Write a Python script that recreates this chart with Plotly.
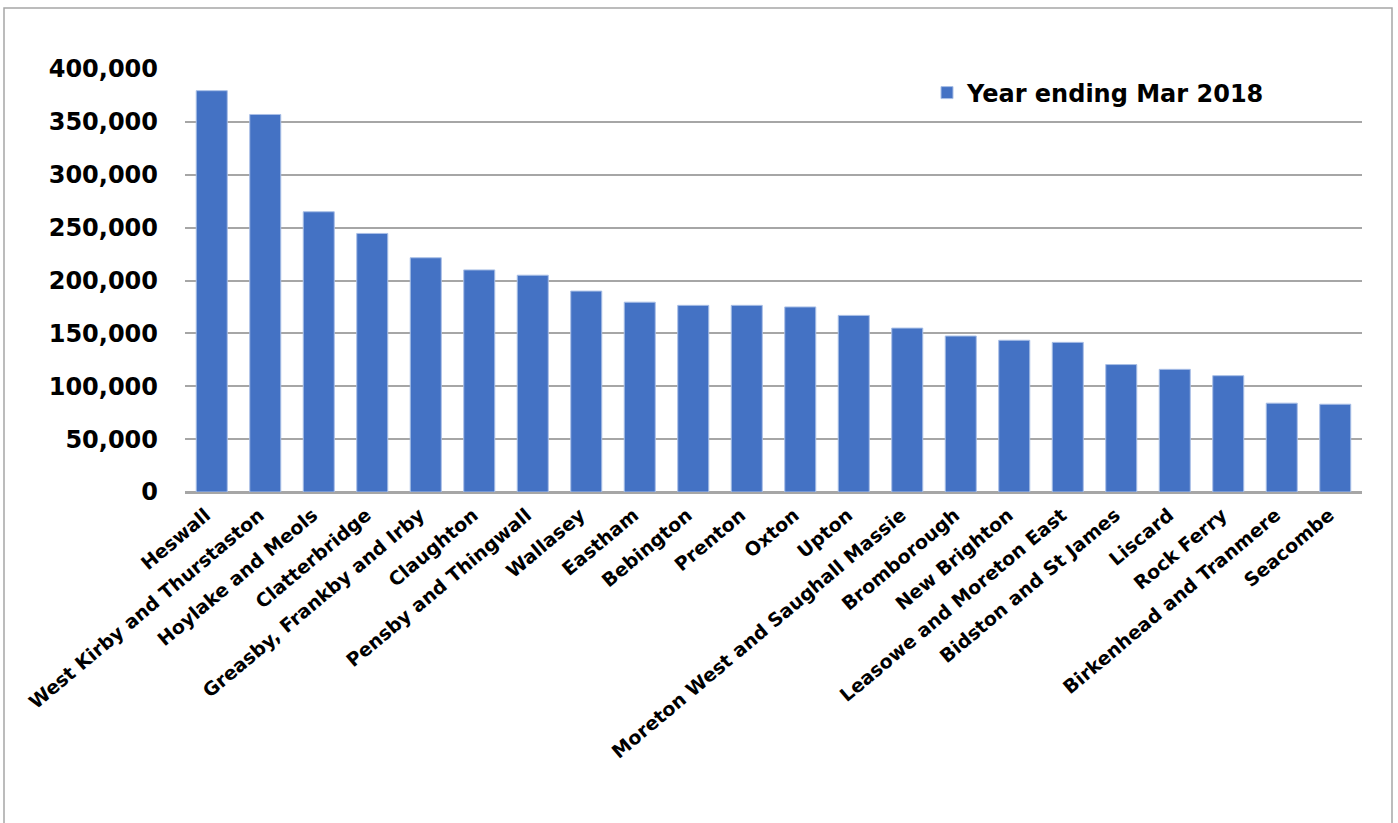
import plotly.graph_objects as go

categories = ["Heswall", "West Kirby and Thurstaston", "Hoylake and Meols", "Clatterbridge",
              "Greasby, Frankby and Irby", "Claughton", "Pensby and Thingwall", "Wallasey",
              "Eastham", "Bebington", "Prenton", "Oxton", "Upton",
              "Moreton West and Saughall Massie", "Bromborough", "New Brighton",
              "Leasowe and Moreton East", "Bidston and St James", "Liscard", "Rock Ferry",
              "Birkenhead and Tranmere", "Seacombe"]
values = [379500, 357000, 265000, 244500, 221500, 210000, 205000, 190000,
          179500, 176500, 176500, 175000, 167000, 155000, 147500, 143500,
          141500, 120500, 116000, 110000, 84000, 83000]
series_name = "Year ending Mar 2018"
y_ticks = [0, 50000, 100000, 150000, 200000, 250000, 300000, 350000, 400000]
y_tick_text = ["0", "50,000", "100,000", "150,000", "200,000", "250,000", "300,000", "350,000", "400,000"]

W, H = 1398, 823
L, R, T, B = 185, 36, 69, 331
pw, ph = W - L - R, H - T - B

fig = go.Figure(go.Bar(
    x=categories, y=values, name=series_name,
    marker=dict(color="#4472C4", line=dict(color="#A9BFE6", width=1)),
    showlegend=True,
))

font_family = "DejaVu Sans"
fig.update_layout(
    width=W, height=H,
    margin=dict(l=L, r=R, t=T, b=B),
    paper_bgcolor="white", plot_bgcolor="white",
    bargap=0.42,
    font=dict(family=font_family, color="black"),
    showlegend=True,
    legend=dict(
        x=(927 - L) / pw, y=(492 - 93) / ph, xanchor="left", yanchor="middle",
        font=dict(family=font_family, size=24, color="black", weight="bold"),
        bgcolor="rgba(0,0,0,0)", itemwidth=30,
    ),
    xaxis=dict(
        tickangle=-40,
        tickfont=dict(family=font_family, size=19, color="black", weight="bold"),
        showgrid=False, showline=True, linecolor="#A6A6A6", linewidth=1.5,
        ticks="", ticklabelstandoff=3, ticklabelshift=-6,
    ),
    yaxis=dict(
        range=[0, 400000], tickvals=y_ticks, ticktext=y_tick_text,
        tickfont=dict(family=font_family, size=24, color="black", weight="bold"),
        showgrid=True, gridcolor="#A6A6A6", gridwidth=1.5,
        zeroline=True, zerolinecolor="#A6A6A6", zerolinewidth=1.5,
        showline=False, ticks="", ticklabelstandoff=26,
    ),
    shapes=[dict(
        type="rect", xref="paper", yref="paper",
        x0=(4 - L) / pw, x1=(1392 - L) / pw,
        y0=(492 - 840) / ph, y1=(492 - 8) / ph,
        line=dict(color="#A6A6A6", width=1.5), fillcolor="rgba(0,0,0,0)", layer="below",
    )],
)

fig.write_html("out.html")
